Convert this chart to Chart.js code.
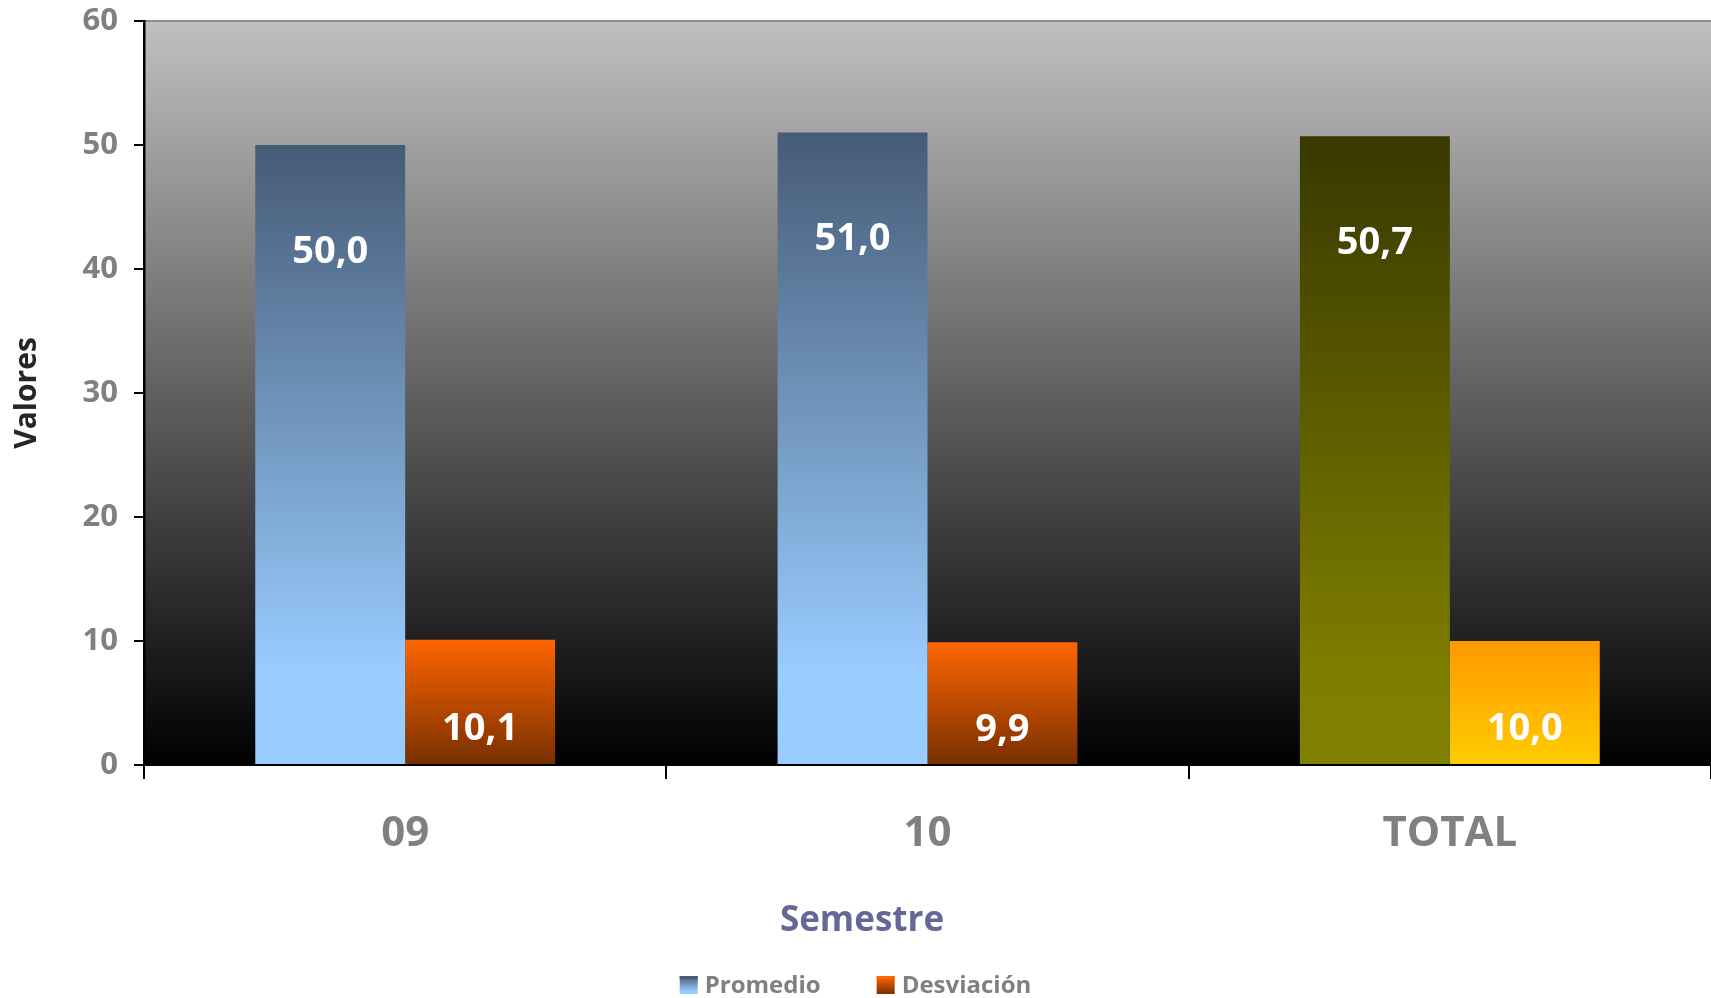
<!DOCTYPE html>
<html lang="es">
<head>
  <meta charset="UTF-8">
  <title>Promedio y Desviación por Semestre</title>
  <script src="https://cdn.jsdelivr.net/npm/chart.js"></script>
  <style>
    html, body {
      margin: 0;
      padding: 0;
      background: #ffffff;
    }
    #wrap {
      width: 1711px;
      height: 998px;
    }
  </style>
</head>
<body>
  <div id="wrap"><canvas id="semestreChart" width="1711" height="998"></canvas></div>

  <script>
    // data
    const categories = ['09', '10', 'TOTAL'];
    const promedio = [50.0, 51.0, 50.7];
    const desviacion = [10.1, 9.9, 10.0];
    const seriesNames = ['Promedio', 'Desviación'];
    const xTitle = 'Semestre';
    const yTitle = 'Valores';
    const yMin = 0;
    const yMax = 60;
    const yStep = 10;

    const FONT = '"Open Sans", "DejaVu Sans", sans-serif';

    // gradient stops per bar (top -> bottom)
    const blueStops = [[0, '#465b76'], [0.85, '#99ccff'], [1, '#99ccff']];
    const oliveStops = [[0, '#383800'], [0.85, '#7e7e00'], [1, '#808000']];
    const orangeStops = [[0, '#ff6600'], [1, '#772e00']];
    const goldStops = [[0, '#ff9900'], [1, '#ffcc00']];
    const promedioStops = [blueStops, blueStops, oliveStops];
    const desviacionStops = [orangeStops, orangeStops, goldStops];

    function fmt(v) {
      return v.toFixed(1).replace('.', ',');
    }

    function barFill(stopSets) {
      return function(context) {
        const stops = stopSets[context.dataIndex] || stopSets[0];
        const chart = context.chart;
        if (!chart.chartArea || context.type !== 'data') return stops[0][1];
        const y = chart.scales.y;
        const top = y.getPixelForValue(context.raw);
        const bottom = y.getPixelForValue(0);
        const g = chart.ctx.createLinearGradient(0, top, 0, bottom);
        stops.forEach(s => g.addColorStop(s[0], s[1]));
        return g;
      };
    }

    const plotBackground = {
      id: 'plotBackground',
      beforeDraw(chart) {
        const {ctx, chartArea: a} = chart;
        ctx.save();
        const g = ctx.createLinearGradient(0, a.top, 0, a.bottom);
        g.addColorStop(0, '#c0c0c0');
        g.addColorStop(1, '#000000');
        ctx.fillStyle = g;
        ctx.fillRect(a.left, a.top, a.right - a.left, a.bottom - a.top);
        ctx.strokeStyle = '#8c8c8c';
        ctx.lineWidth = 2;
        ctx.beginPath();
        ctx.moveTo(a.left, a.top);
        ctx.lineTo(a.right, a.top);
        ctx.stroke();
        ctx.restore();
      }
    };

    const valueLabels = {
      id: 'valueLabels',
      afterDatasetsDraw(chart) {
        const ctx = chart.ctx;
        ctx.save();
        ctx.fillStyle = '#ffffff';
        ctx.font = 'bold 38px ' + FONT;
        ctx.textAlign = 'center';
        ctx.textBaseline = 'middle';
        chart.data.datasets.forEach((ds, i) => {
          chart.getDatasetMeta(i).data.forEach((bar, j) => {
            const h = bar.base - bar.y;
            const off = Math.min(107, h * 0.72);
            ctx.fillText(fmt(ds.data[j]), bar.x, bar.y + off);
          });
        });
        ctx.restore();
      }
    };

    // x title and legend sit centred on the whole picture, not on the plot
    const bottomTexts = {
      id: 'bottomTexts',
      afterDraw(chart) {
        const ctx = chart.ctx;
        ctx.save();
        ctx.fillStyle = '#666699';
        ctx.font = 'bold 35px ' + FONT;
        ctx.textAlign = 'center';
        ctx.textBaseline = 'alphabetic';
        ctx.fillText(xTitle, 862, 931);

        const box = 18, gap = 7, spacing = 56, baseY = 993;
        const stopsList = [blueStops, orangeStops];
        ctx.font = 'bold 24px ' + FONT;
        const widths = seriesNames.map(n => ctx.measureText(n).width);
        let total = 0;
        widths.forEach((w, i) => { total += box + gap + w + (i ? spacing : 0); });
        let x = (chart.width - total) / 2;
        seriesNames.forEach((name, i) => {
          const top = baseY - box + 1;
          const stops = stopsList[i];
          const g = ctx.createLinearGradient(0, top, 0, top + box);
          stops.forEach(s => g.addColorStop(s[0], s[1]));
          ctx.fillStyle = g;
          ctx.fillRect(x, top, box, box);
          ctx.fillStyle = stops[0][1];
          ctx.fillRect(x, top, box, 3);
          ctx.fillStyle = '#808080';
          ctx.textAlign = 'left';
          ctx.fillText(name, x + box + gap, baseY);
          x += box + gap + widths[i] + spacing;
        });
        ctx.restore();
      }
    };

    const ctx = document.getElementById('semestreChart').getContext('2d');
    new Chart(ctx, {
      type: 'bar',
      data: {
        labels: categories,
        datasets: [{
          label: seriesNames[0],
          data: promedio,
          backgroundColor: barFill(promedioStops),
          borderWidth: 0
        }, {
          label: seriesNames[1],
          data: desviacion,
          backgroundColor: barFill(desviacionStops),
          borderWidth: 0
        }]
      },
      options: {
        responsive: false,
        animation: false,
        layout: { padding: { top: 21, right: 0, bottom: 0, left: 0 } },
        datasets: {
          bar: { categoryPercentage: 0.574, barPercentage: 1.0 }
        },
        plugins: {
          legend: { display: false },
          tooltip: { enabled: false }
        },
        scales: {
          x: {
            afterFit(scale) {
              scale.height = 233;
              scale.paddingLeft = 0;
              scale.paddingRight = 0;
            },
            grid: {
              offset: true,
              drawOnChartArea: false,
              drawTicks: true,
              tickLength: 14,
              color: '#000000',
              lineWidth: 2
            },
            border: { color: '#000000', width: 2 },
            ticks: {
              color: '#808080',
              padding: 34,
              font: { family: FONT, size: 42, weight: 'bold', lineHeight: 1 }
            },
            title: { display: false }
          },
          y: {
            min: yMin,
            max: yMax,
            afterFit(scale) {
              scale.width = 144;
              scale.paddingTop = 0;
              scale.paddingBottom = 0;
            },
            grid: {
              drawOnChartArea: false,
              drawTicks: true,
              tickLength: 10,
              color: '#000000',
              lineWidth: 2
            },
            border: { color: '#000000', width: 2.5 },
            ticks: {
              stepSize: yStep,
              color: '#808080',
              padding: 16,
              font: { family: FONT, size: 31, weight: 'bold', lineHeight: 1 }
            },
            title: {
              display: true,
              text: yTitle,
              color: '#262626',
              font: { family: FONT, size: 30, weight: 'bold', lineHeight: 1 },
              padding: { top: 12, bottom: 0 }
            }
          }
        }
      },
      plugins: [plotBackground, valueLabels, bottomTexts]
    });
  </script>
</body>
</html>
